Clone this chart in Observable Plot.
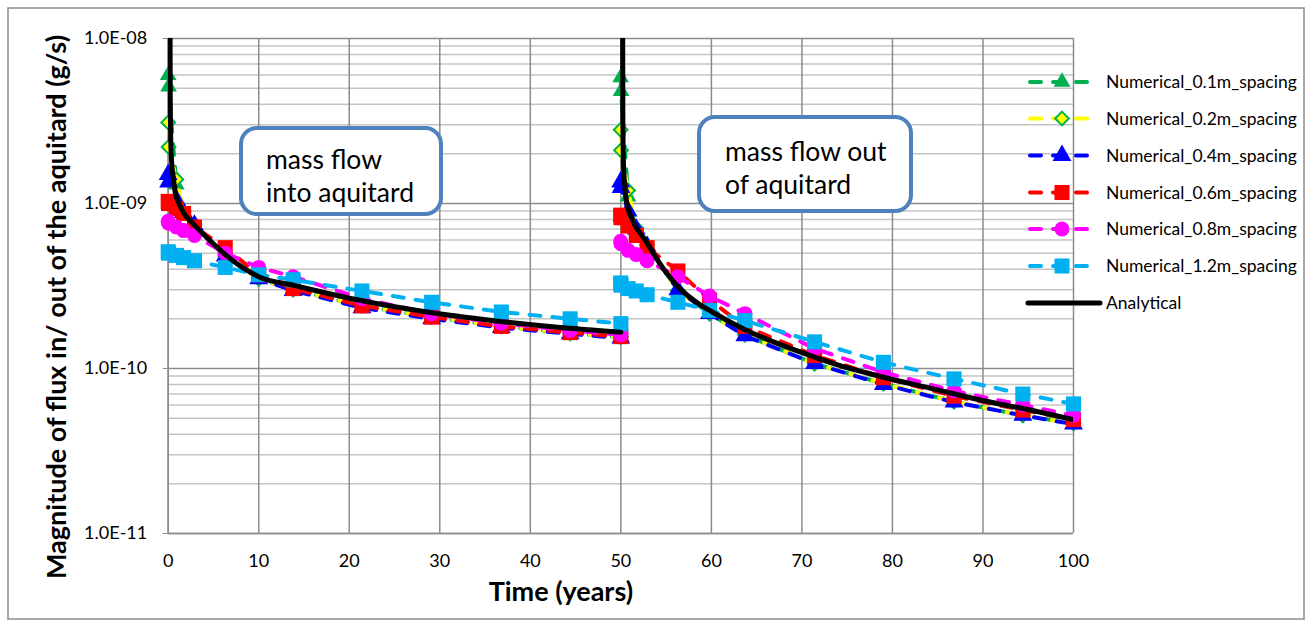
<!DOCTYPE html>
<html><head><meta charset="utf-8">
<script src="https://cdn.jsdelivr.net/npm/d3@7"></script>
<script src="https://cdn.jsdelivr.net/npm/@observablehq/plot@0.6"></script>
<style>
html,body{margin:0;padding:0;background:#fff;}
#chart{position:relative;width:1311px;height:626px;}
</style></head><body><div id="chart"></div>
<script>
const FONT = "Lato, 'Open Sans', sans-serif";

// time points (years) of the numerical solutions
const tPeriod1 = [0.0, 0.04, 0.9, 1.7, 2.9, 6.3, 10, 13.8, 21.4, 29.1, 36.8, 44.4, 50];
const tPeriod2 = [49.98, 50.02, 50.8, 51.7, 52.9, 56.3, 59.8, 63.7, 71.4, 79, 86.8, 94.4, 100];

// numerical series (g/s)
const green1 = [6.0e-9, 5.1e-9, 1.3e-9, 8.8e-10, 7.4e-10, 4.8e-10, 3.5e-10, 3.0e-10, 2.4e-10, 2.05e-10, 1.8e-10, 1.63e-10, 1.55e-10];
const green2 = [5.8e-9, 4.8e-9, 1.1e-9, 7.0e-10, 5.6e-10, 2.97e-10, 2.15e-10, 1.6e-10, 1.07e-10, 8.1e-11, 6.3e-11, 5.2e-11, 4.65e-11];
const yellow1 = [3.1e-9, 2.2e-9, 1.4e-9, 8.9e-10, 7.4e-10, 4.8e-10, 3.5e-10, 3.0e-10, 2.4e-10, 2.05e-10, 1.8e-10, 1.63e-10, 1.55e-10];
const yellow2 = [2.8e-9, 2.1e-9, 1.2e-9, 7.1e-10, 5.6e-10, 2.97e-10, 2.15e-10, 1.6e-10, 1.07e-10, 8.1e-11, 6.3e-11, 5.2e-11, 4.65e-11];
const blue1 = [1.5e-9, 1.35e-9, 1.05e-9, 8.8e-10, 7.4e-10, 4.8e-10, 3.5e-10, 2.97e-10, 2.33e-10, 2.0e-10, 1.77e-10, 1.62e-10, 1.53e-10];
const blue2 = [1.35e-9, 1.25e-9, 9.0e-10, 7.0e-10, 5.5e-10, 3.0e-10, 2.15e-10, 1.58e-10, 1.07e-10, 8.0e-11, 6.25e-11, 5.2e-11, 4.6e-11];
const red1 = [1.03e-9, 1.0e-9, 9.3e-10, 8.7e-10, 7.2e-10, 5.4e-10, 3.7e-10, 3.05e-10, 2.4e-10, 2.05e-10, 1.8e-10, 1.65e-10, 1.56e-10];
const red2 = [8.5e-10, 8.2e-10, 7.3e-10, 6.4e-10, 5.4e-10, 3.9e-10, 2.6e-10, 1.8e-10, 1.2e-10, 8.8e-11, 6.8e-11, 5.6e-11, 4.9e-11];
const magenta1 = [7.8e-10, 7.6e-10, 7.2e-10, 6.85e-10, 6.4e-10, 5.0e-10, 4.1e-10, 3.6e-10, 2.65e-10, 2.15e-10, 1.88e-10, 1.7e-10, 1.6e-10];
const magenta2 = [5.9e-10, 5.7e-10, 5.2e-10, 4.9e-10, 4.5e-10, 3.6e-10, 2.75e-10, 2.15e-10, 1.32e-10, 9.5e-11, 7.3e-11, 6.0e-11, 5.2e-11];
const cyan1 = [5.1e-10, 5.0e-10, 4.85e-10, 4.7e-10, 4.5e-10, 4.1e-10, 3.7e-10, 3.45e-10, 2.95e-10, 2.52e-10, 2.2e-10, 2.0e-10, 1.87e-10];
const cyan2 = [3.3e-10, 3.2e-10, 3.05e-10, 2.95e-10, 2.8e-10, 2.52e-10, 2.25e-10, 1.95e-10, 1.45e-10, 1.09e-10, 8.65e-11, 7.0e-11, 6.1e-11];

// analytical solution
const aTime1 = [0.2, 0.22, 0.3, 0.45, 0.6, 0.8, 1.2, 1.7, 2.8, 4.7, 6.5, 8.5, 10, 14, 21, 28.6, 36, 43, 50];
const aFlux1 = [2e-8, 5e-9, 2.2e-9, 1.6e-9, 1.38e-9, 1.15e-9, 1.0e-9, 8.8e-10, 7.5e-10, 5.9e-10, 4.8e-10, 4.0e-10, 3.6e-10, 3.18e-10, 2.6e-10, 2.2e-10, 1.95e-10, 1.78e-10, 1.66e-10];
const aTime2 = [50.2, 50.22, 50.28, 50.42, 50.6, 51.3, 52.7, 54.6, 56.4, 58.6, 60.1, 63.5, 69.8, 73.5, 79, 84.5, 90, 95.5, 100];
const aFlux2 = [1.5e-8, 3.5e-9, 1.8e-9, 1.3e-9, 1.05e-9, 7.9e-10, 6.0e-10, 4.1e-10, 3.1e-10, 2.47e-10, 2.2e-10, 1.74e-10, 1.26e-10, 1.07e-10, 8.85e-11, 7.53e-11, 6.4e-11, 5.56e-11, 4.89e-11];

const seriesNames = ["Numerical_0.1m_spacing","Numerical_0.2m_spacing","Numerical_0.4m_spacing","Numerical_0.6m_spacing","Numerical_0.8m_spacing","Numerical_1.2m_spacing"];
const seriesColors = ["#00B050","#FFFF00","#0000FF","#FF0000","#FF00FF","#00B0F0"];
const seriesSymbols = ["triangle","diamond2","triangle","square","circle","square"];
const seriesFill = ["#00B050","#FFFF00","#0000FF","#FF0000","#FF00FF","#00B0F0"];
const seriesMarkerStroke = ["none","#00B050","none","none","none","none"];
const seriesR = [6.2, 6.2, 7.0, 8.5, 7.5, 8.5];
const seriesV1 = [green1, yellow1, blue1, red1, magenta1, cyan1];
const seriesV2 = [green2, yellow2, blue2, red2, magenta2, cyan2];
const analyticalName = "Analytical";

const xTicks = [0,10,20,30,40,50,60,70,80,90,100];
const yMajor = [1e-11, 1e-10, 1e-9, 1e-8];
const yMinor = [];
for (const d of [1e-11, 1e-10, 1e-9]) for (let k = 2; k <= 9; k++) yMinor.push(d * k);
const fmtE = d => { const e = Math.round(Math.log10(d)); return "1.0E" + (e < 0 ? "-" : "+") + String(Math.abs(e)).padStart(2, "0"); };

// build rows
const seriesData = seriesNames.map((name, i) => {
  const rows = [];
  tPeriod1.forEach((t, j) => rows.push({t, v: seriesV1[i][j], seg: "p1"}));
  tPeriod2.forEach((t, j) => rows.push({t, v: seriesV2[i][j], seg: "p2"}));
  return rows;
});
const analytical = [];
aTime1.forEach((t, j) => analytical.push({t, v: aFlux1[j], seg: "p1"}));
aTime2.forEach((t, j) => analytical.push({t, v: aFlux2[j], seg: "p2"}));

const GRID = "#8c8c8c", MINOR = "#c4c4c4";
const marks = [
  Plot.gridY(yMinor, {stroke: MINOR, strokeOpacity: 1, strokeWidth: 1.5}),
  Plot.gridY(yMajor, {stroke: GRID, strokeOpacity: 1, strokeWidth: 1.5}),
  Plot.gridX(xTicks, {stroke: GRID, strokeOpacity: 1, strokeWidth: 1.5}),
  Plot.ruleX([0], {stroke: GRID, strokeWidth: 1.5}),
  Plot.ruleY([1e-11], {stroke: GRID, strokeWidth: 1.5}),
  Plot.axisY(yMajor, {tickFormat: fmtE, tickSize: 5, tickPadding: 16, fontSize: 18, stroke: GRID, label: null}),
  Plot.axisX(xTicks, {tickSize: 0, tickPadding: 21, fontSize: 18, label: null}),
  Plot.text(["Magnitude of flux in/ out of the aquitard (g/s)"], {frameAnchor: "left", rotate: -90, dx: -111, dy: 21, textAnchor: "middle", lineAnchor: "middle", fontSize: 27, fontWeight: "bold"}),
  Plot.text(["Time (years)"], {frameAnchor: "bottom", dy: 59, dx: -60, textAnchor: "middle", lineAnchor: "middle", fontSize: 27, fontWeight: "bold"})
];
seriesNames.forEach((name, i) => {
  marks.push(Plot.line(seriesData[i], {x: "t", y: "v", z: "seg", stroke: seriesColors[i], strokeWidth: 4, strokeDasharray: "11,12", strokeLinecap: "round", clip: true}));
  marks.push(Plot.dot(seriesData[i], {x: "t", y: "v", symbol: seriesSymbols[i], fill: seriesFill[i], stroke: seriesMarkerStroke[i], strokeWidth: 2, r: seriesR[i]}));
});
marks.push(Plot.line(analytical, {x: "t", y: "v", z: "seg", stroke: "#000", strokeWidth: 5, curve: "monotone-x", clip: true}));

const svg = Plot.plot({
  width: 1311, height: 626,
  marginLeft: 167.7, marginRight: 238, marginTop: 38, marginBottom: 93,
  x: {domain: [0, 100]},
  y: {type: "log", domain: [1e-11, 1e-8]},
  style: {fontFamily: FONT, background: "#fff", color: "#000"},
  marks
});
document.getElementById("chart").appendChild(svg);

// decorations: outer border, annotation boxes, legend
const s = d3.select(svg);
s.insert("rect", ":first-child").attr("x", 8).attr("y", 8).attr("width", 1296).attr("height", 611)
  .attr("fill", "#fff").attr("stroke", "#8c8c8c").attr("stroke-width", 1.5);

const boxes = [
  {x: 241, y: 128, w: 200, h: 86, tx: 266, ty: 169, lines: ["mass flow", "into aquitard"]},
  {x: 699, y: 117, w: 212, h: 94, tx: 725, ty: 161, lines: ["mass flow out", "of aquitard"]}
];
const bg = s.append("g").attr("text-anchor", "start");
boxes.forEach(b => {
  bg.append("rect").attr("x", b.x).attr("y", b.y).attr("width", b.w).attr("height", b.h)
    .attr("rx", 16).attr("fill", "#fff").attr("stroke", "#4F81BD").attr("stroke-width", 4);
  b.lines.forEach((ln, k) => {
    bg.append("text").attr("x", b.tx).attr("y", b.ty + k * 33).attr("font-family", FONT)
      .attr("text-anchor", "start").attr("font-size", 26.5).attr("fill", "#000").text(ln);
  });
});

const lg = s.append("g").attr("font-family", FONT).attr("font-size", 17.5).attr("text-anchor", "start");
const rowY = [82, 118.5, 155.5, 192.5, 229, 266, 303];
const symMap = {triangle: d3.symbolTriangle, diamond2: d3.symbolDiamond2, square: d3.symbolSquare, circle: d3.symbolCircle};
seriesNames.forEach((name, i) => {
  const y = rowY[i];
  lg.append("line").attr("x1", 1030).attr("x2", 1088).attr("y1", y).attr("y2", y)
    .attr("stroke", seriesColors[i]).attr("stroke-width", 4).attr("stroke-dasharray", "11,12").attr("stroke-linecap", "round");
  lg.append("path").attr("transform", `translate(1062,${y})`)
    .attr("d", d3.symbol(symMap[seriesSymbols[i]], Math.PI * seriesR[i] * seriesR[i])())
    .attr("fill", seriesFill[i]).attr("stroke", seriesMarkerStroke[i]).attr("stroke-width", 2);
  lg.append("text").attr("x", 1106).attr("y", y).attr("dy", "0.35em").attr("text-anchor", "start").text(name);
});
lg.append("line").attr("x1", 1028).attr("x2", 1100).attr("y1", rowY[6]).attr("y2", rowY[6])
  .attr("stroke", "#000").attr("stroke-width", 5).attr("stroke-linecap", "round");
lg.append("text").attr("x", 1106).attr("y", rowY[6]).attr("dy", "0.35em").attr("text-anchor", "start").text(analyticalName);
</script></body></html>
